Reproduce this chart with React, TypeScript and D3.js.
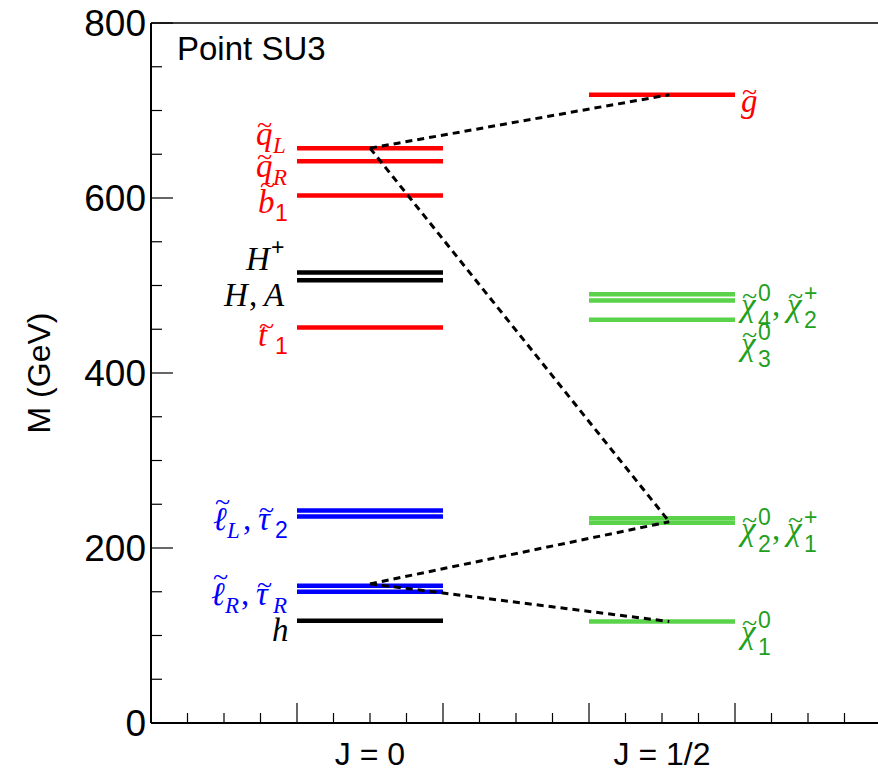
import * as d3 from "d3";

// level masses (GeV)
const spin0Masses = [657, 642, 603, 515, 506, 452, 243, 236, 157, 150, 117];
const spin0Colors = ["red", "red", "red", "black", "black", "red", "blue", "blue", "blue", "blue", "black"];
const spinHalfMasses = [718, 490, 483, 461, 234, 229, 116];
const spinHalfColors = ["red", "#5ad34a", "#5ad34a", "#5ad34a", "#5ad34a", "#5ad34a", "#5ad34a"];

// dashed decay chain [x0, m0, x1, m1]
const decays = [
  [1.5, 657, 3.55, 718],
  [1.5, 657, 3.55, 230],
  [1.5, 159, 3.55, 230],
  [1.5, 159, 3.55, 116],
];
const yTicks = [0, 200, 400, 600, 800];

const W = 878, H = 775;
const left = 151, right = 881, top = 23, bottom = 723;

// one symbol: base letter (italic), optional tilde, sub, sup; pre = leading text
type Sym = { pre?: string; base: string; tilde?: boolean; sub?: string; sup?: string };
const leftLabels: { m: number; color: string; parts: Sym[] }[] = [
  { m: 670, color: "red", parts: [{ base: "q", tilde: true, sub: "L" }] },
  { m: 633, color: "red", parts: [{ base: "q", tilde: true, sub: "R" }] },
  { m: 592, color: "red", parts: [{ base: "b", tilde: true, sub: "1" }] },
  { m: 527, color: "black", parts: [{ base: "H", sup: "+" }] },
  { m: 486, color: "black", parts: [{ base: "H" }, { pre: ", ", base: "A" }] },
  { m: 440, color: "red", parts: [{ base: "t", tilde: true, sub: "1" }] },
  { m: 230, color: "blue", parts: [{ base: "ℓ", tilde: true, sub: "L" }, { pre: ", ", base: "τ", tilde: true, sub: "2" }] },
  { m: 144, color: "blue", parts: [{ base: "ℓ", tilde: true, sub: "R" }, { pre: ", ", base: "τ", tilde: true, sub: "R" }] },
  { m: 103, color: "black", parts: [{ base: "h" }] },
];
const rightLabels: { m: number; color: string; parts: Sym[] }[] = [
  { m: 708, color: "red", parts: [{ base: "g", tilde: true }] },
  { m: 474, color: "#1fa01f", parts: [{ base: "χ", tilde: true, sup: "0", sub: "4" }, { pre: ", ", base: "χ", tilde: true, sup: "+", sub: "2" }] },
  { m: 430, color: "#1fa01f", parts: [{ base: "χ", tilde: true, sup: "0", sub: "3" }] },
  { m: 218, color: "#1fa01f", parts: [{ base: "χ", tilde: true, sup: "0", sub: "2" }, { pre: ", ", base: "χ", tilde: true, sup: "+", sub: "1" }] },
  { m: 101, color: "#1fa01f", parts: [{ base: "χ", tilde: true, sup: "0", sub: "1" }] },
];

const FS = 33;
const baseW = (c: string) => (c === "H" || c === "A" ? 25 : c === "ℓ" ? 14 : 17);
const scriptW = (s: string) => (s === "+" ? 18 : s === "R" || s === "L" ? 16 : 14);
const tall = (c: string) => c === "b" || c === "ℓ";

function layout(parts: Sym[]) {
  let cx = 0;
  const items: { t: string; x: number; dy: number; fs: number; italic: boolean }[] = [];
  parts.forEach((p) => {
    if (p.pre) { items.push({ t: p.pre, x: cx, dy: 0, fs: FS, italic: false }); cx += 15; }
    items.push({ t: p.base, x: cx, dy: 0, fs: FS, italic: true });
    if (p.tilde) items.push({ t: "~", x: cx + (tall(p.base) ? 2 : 1), dy: tall(p.base) ? -19 : -11, fs: 28, italic: false });
    cx += baseW(p.base);
    let sw = 0;
    if (p.sup) { items.push({ t: p.sup, x: cx, dy: -15, fs: 23, italic: false }); sw = scriptW(p.sup); }
    if (p.sub) {
      const it = !/\d/.test(p.sub);
      items.push({ t: p.sub, x: cx, dy: p.sup ? 12 : 8, fs: 23, italic: it });
      sw = Math.max(sw, scriptW(p.sub));
    }
    cx += sw;
  });
  return { items, width: cx };
}

function MathLabel({ x, y, color, parts, anchor }: { x: number; y: number; color: string; parts: Sym[]; anchor: "start" | "end" }) {
  const { items, width } = layout(parts);
  const x0 = anchor === "end" ? x - width : x;
  return (
    <g fill={color}>
      {items.map((it, i) => (
        <text key={i} x={x0 + it.x} y={y + it.dy} fontSize={it.fs}
          fontFamily={!it.italic && /[0-9+]/.test(it.t) ? "'Liberation Sans', sans-serif" : "'Liberation Serif', serif"}
          fontStyle={it.italic ? "italic" : "normal"}>{it.t}</text>
      ))}
    </g>
  );
}

export default function App() {
  const x = d3.scaleLinear().domain([0, 5]).range([left, right]);
  const y = d3.scaleLinear().domain([0, 800]).range([bottom, top]);
  const xMinor = d3.range(0, 5.01, 0.25);
  const yMinor = d3.range(0, 801, 50);

  return (
    <svg width={W} height={H} style={{ position: "absolute", left: 0, top: 0 }} fontFamily="'Liberation Sans', Arial, sans-serif">
      <rect width={W} height={H} fill="white" />
      <line x1={left} x2={W} y1={top} y2={top} stroke="black" strokeWidth={1.5} />
      <line x1={left} x2={left} y1={top} y2={bottom} stroke="black" strokeWidth={2} />
      <line x1={left} x2={W} y1={bottom} y2={bottom} stroke="black" strokeWidth={2} />
      {yMinor.map((v) => (
        <line key={v} x1={left} x2={left + (v % 200 === 0 ? 22 : 11)} y1={y(v)} y2={y(v)} stroke="black" strokeWidth={1.2} />
      ))}
      {xMinor.map((v) => (
        <line key={v} x1={x(v)} x2={x(v)} y1={bottom} y2={bottom - (v % 1 === 0 ? 20 : 10)} stroke="black" strokeWidth={1.2} />
      ))}
      {yTicks.map((v) => (
        <text key={v} x={left - 5} y={y(v) + 13} textAnchor="end" fontSize={37}>{v}</text>
      ))}
      <text transform={`translate(50,${y(400)}) rotate(-90)`} textAnchor="middle" fontSize={32}>M (GeV)</text>
      <text x={x(1.5)} y={765} textAnchor="middle" fontSize={32}>J = 0</text>
      <text x={x(3.5)} y={765} textAnchor="middle" fontSize={32}>J = 1/2</text>
      <text x={177} y={60} fontSize={33}>Point SU3</text>

      {spin0Masses.map((m, i) => (
        <line key={i} x1={x(1)} x2={x(2)} y1={y(m)} y2={y(m)} stroke={spin0Colors[i]} strokeWidth={4.5} />
      ))}
      {spinHalfMasses.map((m, i) => (
        <line key={i} x1={x(3)} x2={x(4)} y1={y(m)} y2={y(m)} stroke={spinHalfColors[i]} strokeWidth={4.5} />
      ))}
      {decays.map((d, i) => (
        <line key={i} x1={x(d[0])} y1={y(d[1])} x2={x(d[2])} y2={y(d[3])} stroke="black" strokeWidth={3} strokeDasharray="7,5" />
      ))}
      {leftLabels.map((l, i) => (
        <MathLabel key={i} x={x(1) - 8} y={y(l.m) + 8} color={l.color} parts={l.parts} anchor="end" />
      ))}
      {rightLabels.map((l, i) => (
        <MathLabel key={i} x={x(4) + 6} y={y(l.m) + 8} color={l.color} parts={l.parts} anchor="start" />
      ))}
    </svg>
  );
}
